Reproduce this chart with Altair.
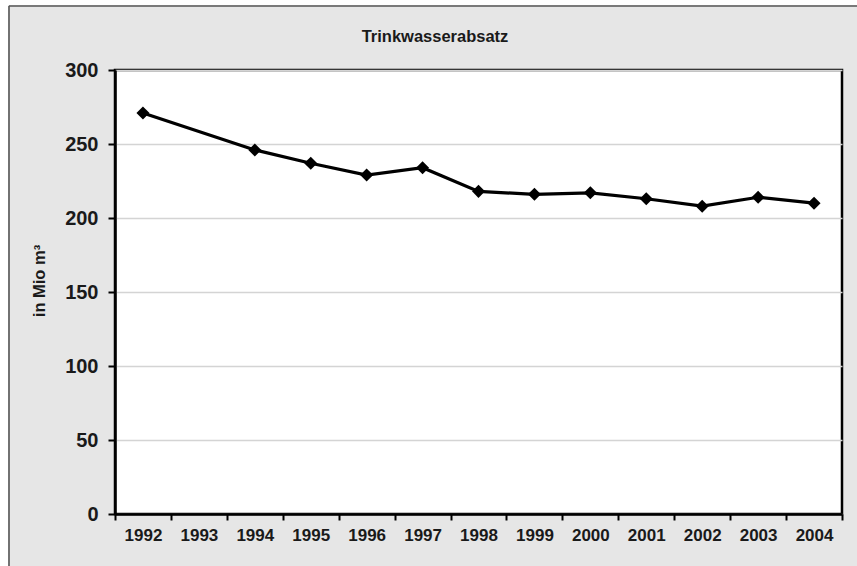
import altair as alt
import pandas as pd

# Trinkwasserabsatz (drinking water sales), million cubic metres per year
years = ["1992", "1993", "1994", "1995", "1996", "1997", "1998",
         "1999", "2000", "2001", "2002", "2003", "2004"]
# no figure reported for 1993
sales = [271, None, 246, 237, 229, 234, 218, 216, 217, 213, 208, 214, 210]
y_ticks = [0, 50, 100, 150, 200, 250, 300]
chart_title = "Trinkwasserabsatz"
y_title = "in Mio m³"

df = pd.DataFrame({"Jahr": years, "Absatz": sales}).dropna()

FONT = "Liberation Sans"
INK = "#1a1a1a"
W, H = 727, 444
PAD_L, PAD_T, PAD_R, PAD_B = 115, 70, 15, 52
BG = "#e6e6e6"

x_enc = alt.X(
    "Jahr:N",
    scale=alt.Scale(domain=years, type="band", paddingInner=0, paddingOuter=0),
    axis=alt.Axis(
        title=None, labelAngle=0, tickBand="extent", grid=False,
        domainColor="black", domainWidth=2.5, tickColor="black", tickWidth=2,
        tickSize=6, labelFont=FONT, labelFontSize=17, labelFontWeight="bold",
        labelColor=INK, labelPadding=7,
    ),
)
y_enc = alt.Y(
    "Absatz:Q",
    scale=alt.Scale(domain=[0, 300], nice=False),
    axis=alt.Axis(
        values=y_ticks, title=None, grid=True, gridColor="#d4d4d4",
        gridWidth=1.5, domainColor="black", domainWidth=2.5, tickColor="black",
        tickWidth=2, tickSize=7, labelFont=FONT, labelFontSize=20,
        labelFontWeight="bold", labelColor=INK, labelPadding=10,
    ),
)

base = alt.Chart(df).encode(x=x_enc, y=y_enc)
line = base.mark_line(color="black", strokeWidth=3.2)
points = base.mark_point(shape="diamond", filled=True, color="black",
                         size=170, opacity=1)

one = pd.DataFrame({"k": [0]})

# outer frame: white margin strip on the left and top, thin dark edge line
strip_left = alt.Chart(one).mark_rect(color="white").encode(
    x=alt.value(-PAD_L), x2=alt.value(-PAD_L + 8),
    y=alt.value(-PAD_T), y2=alt.value(H + PAD_B))
strip_top = alt.Chart(one).mark_rect(color="white").encode(
    x=alt.value(-PAD_L), x2=alt.value(W + PAD_R),
    y=alt.value(-PAD_T), y2=alt.value(-PAD_T + 5))
edge_left = alt.Chart(one).mark_rule(color="#555555", strokeWidth=1.6).encode(
    x=alt.value(-PAD_L + 9), y=alt.value(-PAD_T + 6), y2=alt.value(H + PAD_B))
edge_top = alt.Chart(one).mark_rule(color="#555555", strokeWidth=1.6).encode(
    x=alt.value(-PAD_L + 9), x2=alt.value(W + PAD_R), y=alt.value(-PAD_T + 6))

# chart heading, centred on the grey frame
heading = alt.Chart(one).mark_text(
    text=chart_title, font=FONT, fontSize=16.5, fontWeight="bold", color=INK,
    align="center", baseline="middle",
).encode(x=alt.value(320), y=alt.value(-33))

# vertical y-axis title
y_label = alt.Chart(one).mark_text(
    text=y_title, font=FONT, fontSize=16.5, fontWeight="bold", color=INK,
    align="center", baseline="middle", angle=270,
).encode(x=alt.value(-75), y=alt.value(211))

chart = alt.layer(
    strip_left, strip_top, edge_left, edge_top, heading, y_label, line, points
).properties(
    width=W, height=H,
    padding={"left": PAD_L, "top": PAD_T, "right": PAD_R, "bottom": PAD_B},
    autosize=alt.AutoSizeParams(type="none"),
    background=BG,
).configure_view(
    fill="white", stroke="black", strokeWidth=2.5
)

chart.save("out.html", embed_options={"renderer": "svg", "actions": False})
